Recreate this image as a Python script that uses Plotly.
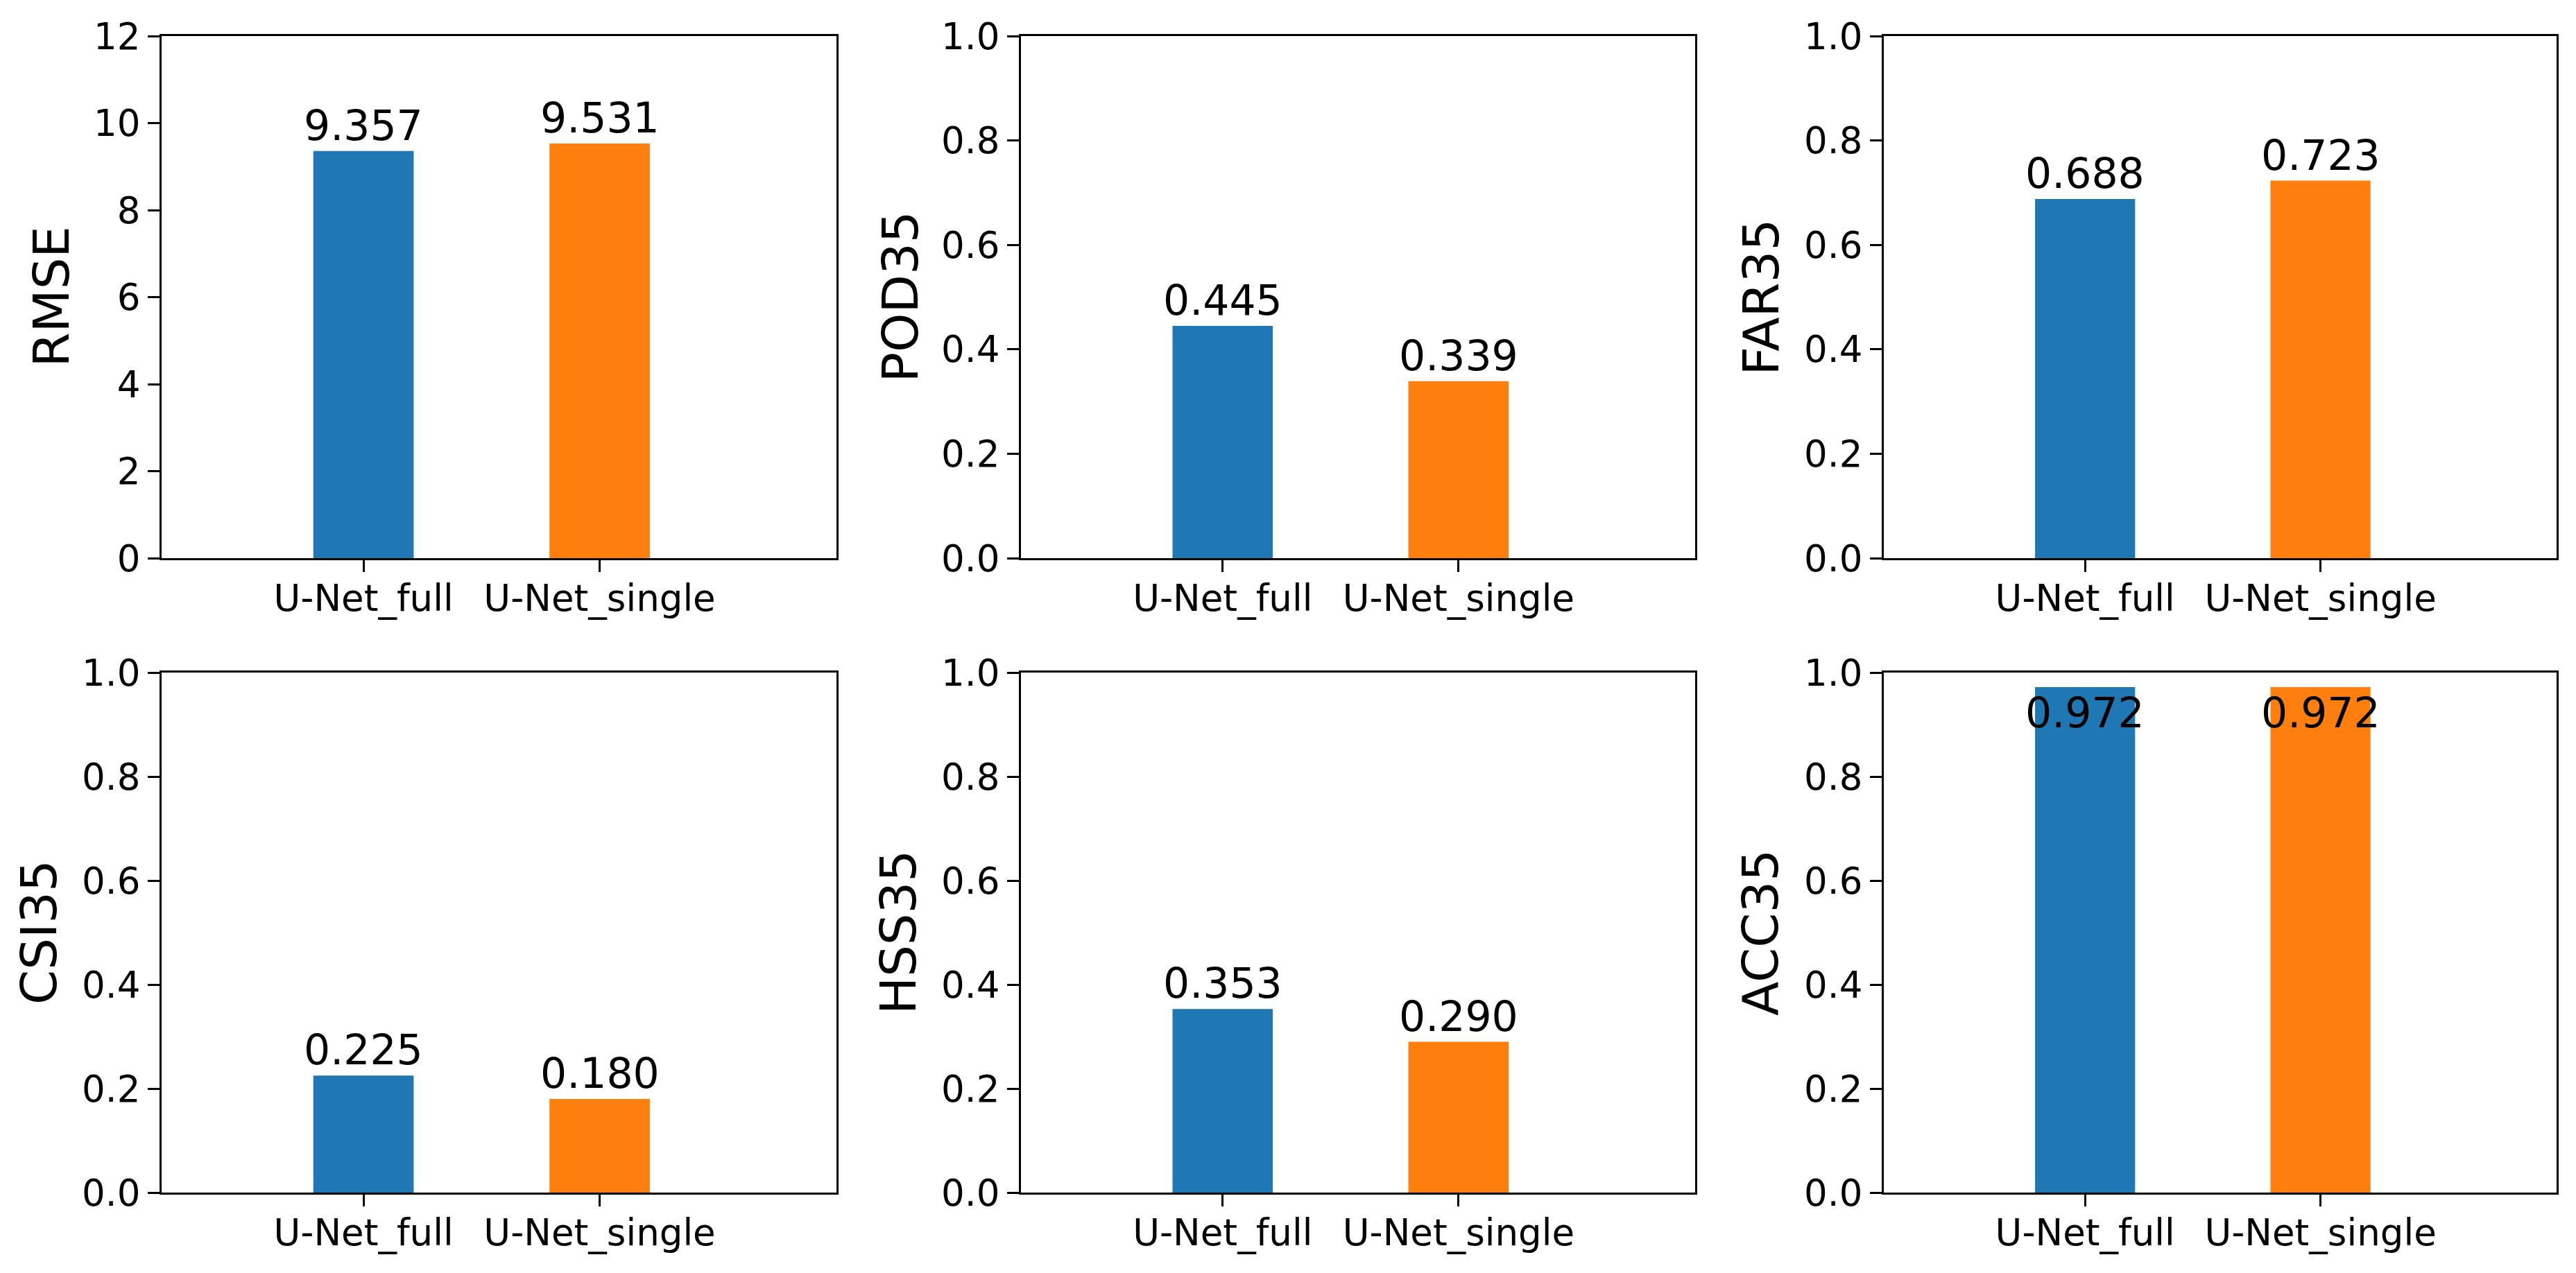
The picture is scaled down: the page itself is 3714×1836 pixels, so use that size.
import plotly.graph_objects as go

# ---- data ----
models = ["U-Net_full", "U-Net_single"]
metrics = ["RMSE", "POD35", "FAR35", "CSI35", "HSS35", "ACC35"]
rmse = [9.357, 9.531]
pod35 = [0.445, 0.339]
far35 = [0.688, 0.723]
csi35 = [0.225, 0.180]
hss35 = [0.353, 0.290]
acc35 = [0.972, 0.972]
values = [rmse, pod35, far35, csi35, hss35, acc35]
y_max = [12, 1.0, 1.0, 1.0, 1.0, 1.0]
y_dtick = [2, 0.2, 0.2, 0.2, 0.2, 0.2]
colors = ["#1f77b4", "#ff7f0e"]

W, H = 3714, 1836
FONT = "DejaVu Sans"

# layout (pixel geometry of the axes boxes)
col_px = [(225, 1198), (1464, 2436), (2708, 3678)]
row_px = [(44, 797), (962, 1712)]
title_off = [-160, -175, -178, -177, -177, -178]

fig = go.Figure()
layout = dict(
    width=W, height=H,
    margin=dict(l=0, r=0, t=0, b=0),
    paper_bgcolor="white", plot_bgcolor="white",
    showlegend=False,
    font=dict(family=FONT, color="black"),
    annotations=[],
)

for i, (name, vals) in enumerate(zip(metrics, values)):
    r, c = divmod(i, 3)
    idx = "" if i == 0 else str(i + 1)
    xa, ya = "x" + idx, "y" + idx
    fig.add_trace(go.Bar(
        x=[0, 1], y=vals, width=0.425,
        marker=dict(color=colors, line=dict(width=0)),
        xaxis=xa, yaxis=ya, hoverinfo="skip",
    ))
    x0, x1 = col_px[c]
    y0, y1 = row_px[r]
    axis_common = dict(
        showline=True, linecolor="black", linewidth=3, mirror=True,
        ticks="outside", ticklen=17, tickwidth=3, tickcolor="black",
        showgrid=False, zeroline=False, automargin=False,
    )
    layout["xaxis" + idx] = dict(
        domain=[x0 / W, x1 / W], range=[-0.855, 2.003],
        tickvals=[0, 1], ticktext=models,
        tickfont=dict(family=FONT, size=53, color="black"),
        ticklabelstandoff=-8,
        anchor=ya, **axis_common,
    )
    layout["yaxis" + idx] = dict(
        domain=[1 - y1 / H, 1 - y0 / H], range=[0, y_max[i]],
        tick0=0, dtick=y_dtick[i],
        tickformat="d" if y_max[i] > 2 else ".1f",
        tickfont=dict(family=FONT, size=53, color="black"),
        anchor=xa, **axis_common,
    )
    # y-axis title
    layout["annotations"].append(dict(
        text=name, xref="paper", yref="paper",
        x=(x0 + title_off[i]) / W, y=1 - (y0 + y1) / 2 / H,
        xanchor="center", yanchor="middle", textangle=-90,
        showarrow=False, font=dict(family=FONT, size=72, color="black"),
    ))
    # value labels
    for k, v in enumerate(vals):
        inside = v > 0.9 * y_max[i]
        layout["annotations"].append(dict(
            text=f"{v:.3f}", xref=xa, yref=ya, x=k, y=v,
            xanchor="center", yanchor="top" if inside else "bottom",
            showarrow=False, font=dict(family=FONT, size=60, color="black"),
        ))

fig.update_layout(**layout)
fig.write_html("out.html")
